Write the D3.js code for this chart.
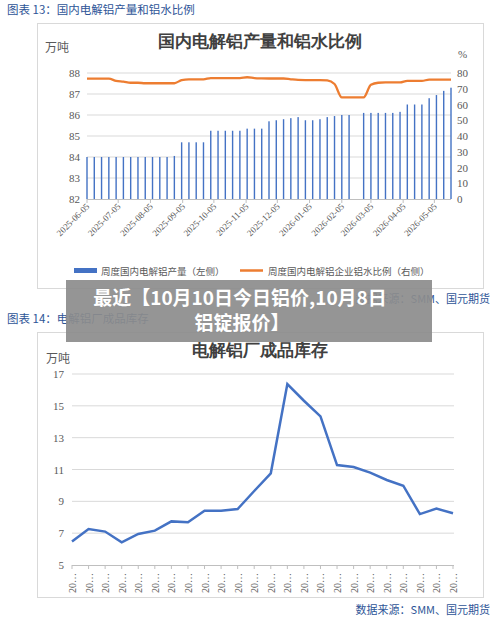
<!DOCTYPE html><html><head><meta charset="utf-8">
<script src="https://cdn.jsdelivr.net/npm/d3@7"></script>
<style>body{margin:0;background:#fff}svg{display:block}</style></head><body>
<svg id="c" width="500" height="622"></svg>
<script>
// ---- Chart 1 data: weekly slots starting 2025-06-05 ----
const startDate = "2025-06-05";
const production = [84,84,84,84,84,84,84,84,84,84,84,84,84.05,84.7,84.7,84.7,84.7,85.25,85.25,85.25,85.25,85.25,85.35,85.35,85.35,85.7,85.75,85.8,85.85,85.9,85.75,85.75,85.8,85.9,85.95,86,86,null,86.1,86.1,86.1,86.1,86.1,86.15,86.5,86.5,86.5,86.8,86.95,87.15,87.3];
const ratio = [76.4,76.4,76.4,76.4,75,74.5,73.8,73.8,73.5,73.5,73.5,73.5,73.5,75.5,76,76,76,76.8,76.8,76.8,76.8,76.8,77.3,76.8,76.6,76.5,76.5,76.5,76,75.6,75.5,75.5,75.5,75.3,73,64.5,64.5,64.5,64.5,72.5,73.8,74,74,74,75,75,75,75.8,75.8,75.8,75.8];
const monthTicks = ["2025-06-05","2025-07-05","2025-08-05","2025-09-05","2025-10-05","2025-11-05","2025-12-05","2026-01-05","2026-02-05","2026-03-05","2026-04-05","2026-05-05"];
const leftTicks = [82,83,84,85,86,87,88];
const rightTicks = [0,10,20,30,40,50,60,70,80];
// ---- Chart 2 data ----
const inventory = [6.47,7.26,7.1,6.42,6.95,7.16,7.74,7.68,8.41,8.41,8.52,9.65,10.76,16.37,15.32,14.34,11.28,11.16,10.8,10.34,9.98,8.2,8.54,8.25];
const invTicks = [5,7,9,11,13,15,17];

const svg = d3.select("#c");
const blue = "#4472C4", orange = "#ED7D31", hdr = "#2E5597";
const serif = "'Liberation Serif','DejaVu Serif',serif";
const cjk = "'Noto Sans CJK SC',sans-serif";
const parse = d3.timeParse("%Y-%m-%d");
const d0 = parse(startDate);
const dates = production.map((_, i) => d3.timeDay.offset(d0, 7*i));

function txt(x,y,s,o={}){return svg.append("text").attr("x",x).attr("y",y).text(s)
  .attr("font-family",o.ff||cjk).attr("font-size",o.fs||11).attr("fill",o.fill||"#595959")
  .attr("text-anchor",o.a||"start").attr("font-weight",o.fw||"normal");}

// Chart 1
txt(7,14,"图表 13：国内电解铝产量和铝水比例",{fill:hdr,fs:11.5});
svg.append("rect").attr("x",37.5).attr("y",23.5).attr("width",446).attr("height",265).attr("fill","none").attr("stroke","#d9d9d9");
txt(260,47,"国内电解铝产量和铝水比例",{ff:serif,fs:17,fw:"bold",a:"middle",fill:"#404040"});
txt(45,52,"万吨",{fs:12});
txt(458,58,"%",{ff:serif,fs:11});
const x1 = d3.scaleTime().domain([dates[0], dates[dates.length-1]]).range([87,451]);
const y1 = d3.scaleLinear().domain([82,88]).range([199,73]);
const y1r = d3.scaleLinear().domain([0,80]).range([199,73]);
svg.append("g").selectAll("line").data(leftTicks.slice(1)).join("line")
  .attr("x1",87).attr("x2",451).attr("y1",d=>y1(d)).attr("y2",d=>y1(d)).attr("stroke","#d9d9d9");
leftTicks.forEach(t=>txt(80,y1(t)+4,t,{ff:serif,fs:11,a:"end"}));
rightTicks.forEach(t=>txt(457,y1r(t)+4,t,{ff:serif,fs:11}));
svg.append("g").selectAll("rect").data(production.map((v,i)=>({v,d:dates[i]})).filter(d=>d.v!=null)).join("rect")
  .attr("x",d=>x1(d.d)-0.7).attr("width",1.4).attr("y",d=>y1(d.v)).attr("height",d=>199-y1(d.v)).attr("fill",blue);
svg.append("line").attr("x1",87).attr("x2",451).attr("y1",199.5).attr("y2",199.5).attr("stroke","#bfbfbf");
svg.append("path").datum(ratio.map((v,i)=>[dates[i],v]))
  .attr("d",d3.line().x(d=>x1(d[0])).y(d=>y1r(d[1])).curve(d3.curveMonotoneX))
  .attr("fill","none").attr("stroke",orange).attr("stroke-width",2.3);
monthTicks.forEach(m=>{const xx=x1(parse(m));
  svg.append("line").attr("x1",xx).attr("x2",xx).attr("y1",199).attr("y2",203).attr("stroke","#bfbfbf");
  svg.append("text").attr("transform",`translate(${xx+3},${207}) rotate(-45)`).attr("text-anchor","end")
    .attr("font-family",serif).attr("font-size",9).attr("fill","#595959").text(m);});
svg.append("rect").attr("x",74).attr("y",268).attr("width",23).attr("height",5).attr("fill",blue);
txt(101,275,"周度国内电解铝产量（左侧）",{fs:9.5});
svg.append("line").attr("x1",240).attr("x2",263).attr("y1",270.5).attr("y2",270.5).attr("stroke",orange).attr("stroke-width",2.5);
txt(268,275,"周度国内电解铝企业铝水比例（右侧）",{fs:9.5});
txt(490,303,"数据来源：SMM、国元期货",{fill:hdr,fs:11,a:"end"});

// Chart 2
txt(7,323,"图表 14：电解铝厂成品库存",{fill:hdr,fs:11.5});
svg.append("rect").attr("x",37.5).attr("y",332.5).attr("width",446).attr("height",265).attr("fill","none").attr("stroke","#d9d9d9");
txt(260,356,"电解铝厂成品库存",{ff:serif,fs:17,fw:"bold",a:"middle",fill:"#404040"});
txt(46,363,"万吨",{fs:12});
const x2 = d3.scalePoint().domain(d3.range(inventory.length)).range([72,453]);
const y2 = d3.scaleLinear().domain([5,17]).range([565,374]);
invTicks.slice(1).forEach(t=>svg.append("line").attr("x1",72).attr("x2",454).attr("y1",y2(t)).attr("y2",y2(t)).attr("stroke","#d9d9d9"));
invTicks.forEach(t=>txt(64,y2(t)+4,t,{ff:serif,fs:11,a:"end"}));
svg.append("line").attr("x1",72).attr("x2",454).attr("y1",565.5).attr("y2",565.5).attr("stroke","#bfbfbf");
inventory.forEach((_,i)=>{const xx=x2(i);
  svg.append("line").attr("x1",xx).attr("x2",xx).attr("y1",565).attr("y2",569).attr("stroke","#bfbfbf");
  svg.append("text").attr("transform",`translate(${xx+4},${573}) rotate(-90)`).attr("text-anchor","end")
    .attr("font-family",serif).attr("font-size",10).attr("fill","#595959").text("20…");});
svg.append("path").datum(inventory).attr("d",d3.line().x((d,i)=>x2(i)).y(d=>y2(d)))
  .attr("fill","none").attr("stroke",blue).attr("stroke-width",2.5);
txt(490,614,"数据来源：SMM、国元期货",{fill:hdr,fs:11,a:"end"});

// Overlay banner
svg.append("rect").attr("x",66).attr("y",280).attr("width",366).attr("height",62).attr("fill","#8c8c8c").attr("opacity",0.92);
txt(240,305,"最近【10月10日今日铝价,10月8日",{fill:"#fff",fs:19,fw:"bold",a:"middle"});
txt(242,330,"铝锭报价】",{fill:"#fff",fs:19,fw:"bold",a:"middle"});
</script></body></html>
